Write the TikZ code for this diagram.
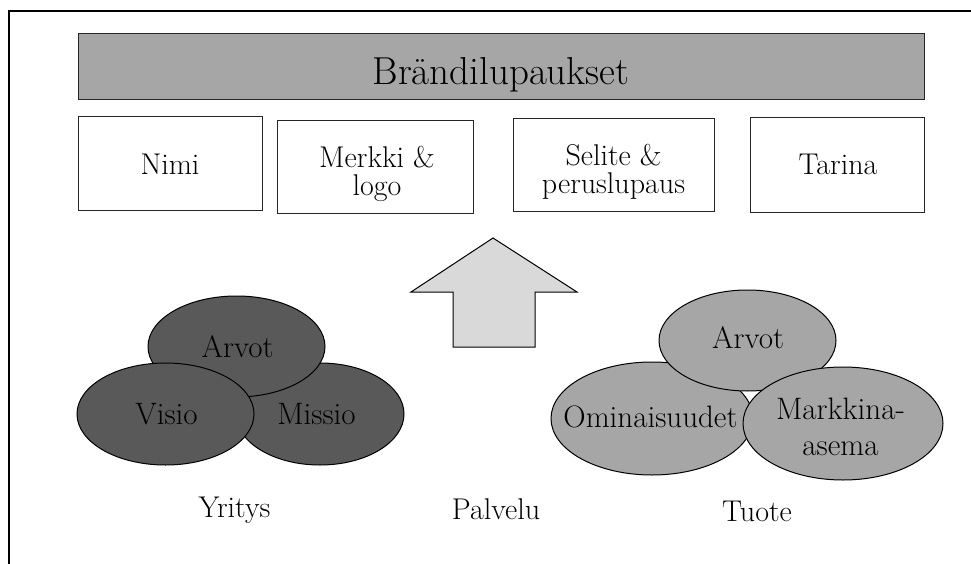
\documentclass[tikz,border=0pt]{standalone}
\usepackage{fontspec}
\usepackage{tikz}
\usetikzlibrary{shapes.geometric}
\definecolor{bargray}{HTML}{A6A6A6}
\definecolor{darkell}{HTML}{595959}
\definecolor{lightell}{HTML}{A6A6A6}
\definecolor{arrowgray}{HTML}{D9D9D9}
\definecolor{edgegray}{HTML}{262626}
\begin{document}
\begin{tikzpicture}[x=1pt,y=-1pt,
  boxshape/.style={draw=edgegray, line width=1pt, fill=white, inner sep=0pt, rectangle},
  ell/.style={draw=black, line width=1pt, ellipse, inner sep=0pt},
  lbl/.style={font=\fontsize{30}{28}\selectfont, inner sep=0pt, anchor=base},
  lblc/.style={font=\fontsize{30}{28}\selectfont, inner sep=0pt, anchor=center, align=center},
  elbl/.style={font=\fontsize{31}{36}\selectfont, inner sep=0pt, anchor=base},
  elblc/.style={font=\fontsize{31}{36}\selectfont, inner sep=0pt, anchor=center, align=center},
  ]
\useasboundingbox (0,0) rectangle (971,564);
\fill[white] (0,0) rectangle (971,564);
% frame
\coordinate (fb) at (9,570);
\coordinate (ftl) at (9,11);
\coordinate (ftr) at (975,11);
\draw[line width=1.6pt] (fb) -- (ftl) -- (ftr);

% title bar
\node[boxshape, fill=bargray, minimum width=846pt, minimum height=66pt] (bar) at (501,67) {};
\node[font=\fontsize{39}{44}\selectfont, inner sep=0pt, anchor=base] (bart) at (501,85) {Brändilupaukset};

% boxes
\node[boxshape, minimum width=184pt, minimum height=93pt] (nimi) at (170,163.5) {};
\node[boxshape, minimum width=196pt, minimum height=92pt] (merkki) at (375,167) {};
\node[boxshape, minimum width=201pt, minimum height=92pt] (selite) at (613.5,165) {};
\node[boxshape, minimum width=174pt, minimum height=94pt] (tarina) at (837,165) {};
\node[lbl] (nimit) at (170,175) {Nimi};
\node[lblc] (merkkit) at (377,174) {Merkki \&\\logo};
\node[lblc] (selitet) at (613.5,171.5) {Selite \&\\peruslupaus};
\node[lbl] (tarinat) at (838,175) {Tarina};

% arrow
\coordinate (a1) at (493,238);
\coordinate (a2) at (411,292);
\coordinate (a3) at (453,292);
\coordinate (a4) at (453,347);
\coordinate (a5) at (535,347);
\coordinate (a6) at (535,292);
\coordinate (a7) at (577,292);
\draw[line width=1pt, fill=arrowgray] (a1) -- (a2) -- (a3) -- (a4) -- (a5) -- (a6) -- (a7) -- cycle;

% left ellipses
\node[ell, fill=darkell, minimum width=168pt, minimum height=102pt] (missio) at (320,414) {};
\node[ell, fill=darkell, minimum width=177pt, minimum height=101pt] (arvotl) at (236.5,346.5) {};
\node[ell, fill=darkell, minimum width=177pt, minimum height=102pt] (visio) at (165.5,414) {};
\node[elbl] (arvotlt) at (237.5,357) {Arvot};
\node[elbl] (visiot) at (166.5,424) {Visio};
\node[elbl] (missiot) at (316.5,424) {Missio};

% right ellipses
\node[ell, fill=lightell, minimum width=202pt, minimum height=113pt] (omin) at (652,418.5) {};
\node[ell, fill=lightell, minimum width=177pt, minimum height=101pt] (arvotr) at (747.5,340.5) {};
\node[ell, fill=lightell, minimum width=200pt, minimum height=113pt] (markk) at (843,423.5) {};
\node[elbl] (arvotrt) at (748,348) {Arvot};
\node[elbl] (omint) at (650.5,427) {Ominaisuudet};
\node[elblc] (markkt) at (840.5,426.5) {Markkina-\\asema};

% bottom labels
\node[lbl] (yritys) at (234.5,517) {Yritys};
\node[lbl] (palvelu) at (496,519) {Palvelu};
\node[lbl] (tuote) at (757,521) {Tuote};
\end{tikzpicture}
\end{document}
